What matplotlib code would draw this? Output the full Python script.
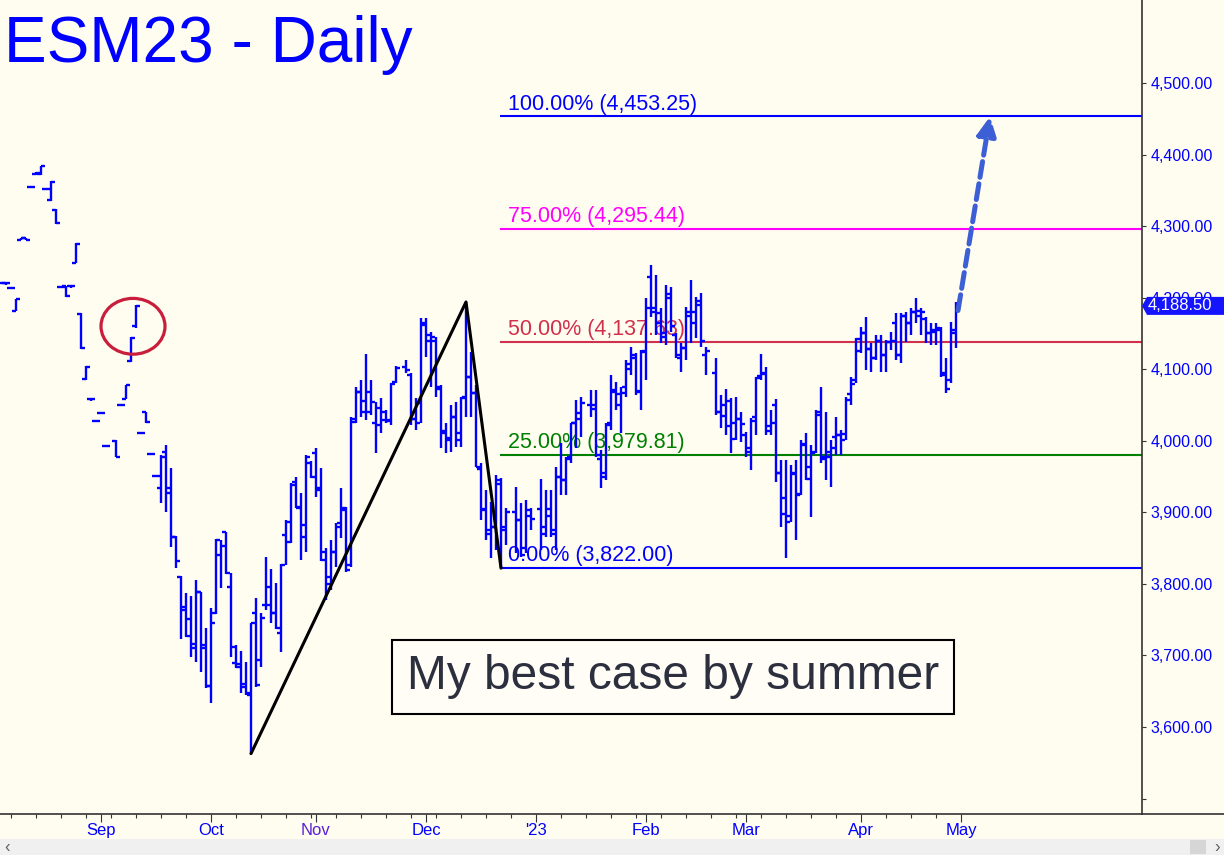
import numpy as np
import pandas as pd
import matplotlib
matplotlib.use('Agg')
import matplotlib.pyplot as plt
from matplotlib.patches import Ellipse, Rectangle, Polygon
from matplotlib.lines import Line2D
from matplotlib.transforms import IdentityTransform

plt.rcParams['font.family'] = ['Liberation Sans', 'DejaVu Sans']

# weekday calendar of the chart, Aug 1 2022 .. May 1 2023
dates = pd.bdate_range('2022-08-01', '2023-05-01')

# daily bars, one value per weekday (None = no bar)
opens = [
    None, None, None, 4221, 4220, 4214, 4181, 4281, 4283, 4354, 4373, 4373,          # Aug
    4352, 4336, 4323, 4215, 4216, 4216, 4249, 4177, 4086, 4058, 4028,
    4039, 3993, None, 4000, 4050, 4058, 4112, 4160, 4011, 4040, 3982, 3951,           # Sep
    3934, 3984, 3927, 3866, 3810, 3764, 3751, 3710, 3789, 3715,
    3657, 3759, 3840, 3872, 3796, 3690, 3688, 3660, 3645, 3759, 3694,                 # Oct
    3770, 3770, 3759, 3731, 3868, 3858, 3942, 3907, 3866, 3969,
    3983, 3934, 3845, 3810, 3845, 3885, 3906, 3826, 4026, 4068, 4055,                 # Nov
    4068, 4025, 4046, 4040, 4029, 4082, None, 4103, 4092, 4030, 4053,
    4165, 4140, 4140, 4072, 4013, 4004, 4033, 4011, 4061, 4089, 4067,                 # Dec
    3960, 3905, 3870, 3880, 3940, 3875, None, 3900, 3889, 3850, 3895,
    None, 3905, 3880, 3905, 3875, 3950, 3945, 3977, 4025, 4030, None,                 # Jan
    4050, 4050, 3975, 3955, 4025, 4068, 4050, 4075, 4100, 4115, 4068,
    4125, 4229, 4185, 4165, 4145, 4200, 4148, 4115, 4130, 4175,                       # Feb
    4165, 4190, 4120, None, 4095, 4040, 4050, 4020, 4025, 4030,
    4008, 3985, 4033, 4090, 4095, 4020, 4050, 3955, 3920, 3895, 3955, 3925,           # Mar
    3995, 3963, 3985, 4040, 3978, 3985, 4005, 4008, 4010, 4065, 4085,
    4125, 4150, 4128, 4115, 4140, 4120, 4138, 4165, 4120, 4175,                       # Apr
    4165, 4180, 4175, 4170, 4150, 4152, 4155, 4095, 4085, 4150,
    None,                                                                             # May
]
highs = [
    None, None, None, 4222, 4221, 4215, 4198, 4284, 4284, 4356, 4375, 4384,
    4353, 4363, 4324, 4216, 4217, 4217, 4276, 4178, 4104, 4059, 4029,
    4040, 3994, None, 4001, 4051, 4078, 4145, 4190, 4012, 4040, 3983, 3952,
    3980, 3994, 3962, 3867, 3811, 3787, 3783, 3805, 3789, 3738,
    3766, 3863, 3861, 3873, 3815, 3715, 3706, 3691, 3745, 3780, 3759,
    3838, 3821, 3801, 3828, 3889, 3941, 3949, 3927, 3980, 3972,
    3990, 3962, 3850, 3861, 3885, 3934, 3907, 4033, 4075, 4085, 4121,
    4085, 4054, 4060, 4043, 4081, 4104, None, 4113, 4095, 4060, 4172,
    4172, 4152, 4145, 4078, 4025, 4050, 4054, 4061, 4194, 4124, 4078,
    3969, 3931, 3914, 3952, 3948, 3906, None, 3935, 3913, 3917, 3906,
    None, 3947, 3931, 3931, 3963, 3997, 3977, 4025, 4057, 4061, None,
    4071, 4071, 3987, 4025, 4092, 4082, 4075, 4113, 4131, 4123, 4127,
    4200, 4246, 4232, 4186, 4218, 4215, 4151, 4137, 4187, 4225,
    4201, 4206, 4131, None, 4116, 4064, 4072, 4060, 4061, 4040,
    4012, 4032, 4089, 4121, 4103, 4043, 4058, 3973, 3973, 3966, 3973, 4001,
    4011, 3994, 4043, 4075, 4040, 4001, 4033, 4015, 4061, 4089, 4144,
    4159, 4173, 4137, 4148, 4148, 4141, 4152, 4179, 4179, 4180,
    4186, 4200, 4186, 4173, 4165, 4165, 4159, 4116, 4166, 4194,
    None,
]
lows = [
    None, None, None, 4219, 4218, 4213, 4181, 4280, 4280, 4353, 4372, 4372,
    4350, 4335, 4303, 4213, 4201, 4214, 4248, 4128, 4085, 4056, 4026,
    4037, 3991, None, 3977, 4048, 4058, 4110, 4158, 4009, 4025, 3980, 3949,
    3913, 3900, 3852, 3822, 3723, 3726, 3698, 3691, 3677, 3655,
    3634, 3758, 3794, 3814, 3698, 3682, 3648, 3645, 3562.75, 3656, 3684,
    3764, 3745, 3737, 3705, 3826, 3857, 3906, 3833, 3845, 3948,
    3921, 3832, 3777, 3791, 3823, 3864, 3817, 3824, 4025, 4033, 4029,
    4036, 3983, 4011, 4025, 4022, 4081, None, 4095, 4022, 4015, 4025,
    4117, 4075, 4061, 3990, 3983, 3985, 3991, 3991, 4033, 4033, 3963,
    3889, 3861, 3836, 3847, 3822, 3854, None, 3843, 3838, 3843, 3875,
    None, 3847, 3866, 3866, 3847, 3924, 3924, 3969, 3990, 4005, None,
    4033, 3977, 3934, 3945, 4015, 4043, 4011, 4061, 4092, 4064, 4043,
    4085, 4173, 4148, 4137, 4134, 4152, 4116, 4096, 4113, 4137,
    4144, 4131, 4092, None, 4036, 4018, 4008, 3983, 4001, 3998,
    3977, 3959, 4008, 4085, 4008, 4008, 3942, 3880, 3836, 3887, 3861, 3924,
    3945, 3893, 3983, 3969, 3945, 3935, 3980, 3980, 4001, 4050, 4081,
    4123, 4099, 4096, 4113, 4096, 4096, 4127, 4113, 4109, 4138,
    4148, 4165, 4148, 4137, 4134, 4134, 4089, 4067, 4081, 4130,
    None,
]
closes = [
    None, None, None, 4220, 4220, 4214, 4198, 4283, 4281, 4355, 4374, 4384,
    4352, 4362, 4304, 4215, 4202, 4216, 4275, 4129, 4103, 4058, 4028,
    4039, 3993, None, 3978, 4050, 4078, 4144, 4189, 4011, 4026, 3982, 3951,
    3977, 3934, 3866, 3832, 3768, 3727, 3716, 3789, 3710, 3657,
    3745, 3861, 3853, 3815, 3712, 3684, 3656, 3648, 3745, 3659, 3752,
    3796, 3759, 3739, 3826, 3887, 3938, 3906, 3882, 3977, 3950,
    3931, 3833, 3800, 3845, 3880, 3903, 3819, 4030, 4068, 4040, 4040,
    4054, 4022, 4029, 4028, 4080, 4102, None, 4099, 4030, 4025, 4162,
    4148, 4145, 4075, 4011, 4001, 4033, 4001, 4060, 4089, 4067, 3963,
    3903, 3875, 3880, 3945, 3880, 3900, None, 3889, 3840, 3903, 3890,
    None, 3870, 3895, 3870, 3949, 3945, 3975, 4025, 4039, 4053, None,
    4045, 3980, 3949, 4022, 4071, 4065, 4067, 4107, 4120, 4070, 4124,
    4185, 4180, 4179, 4150, 4205, 4160, 4120, 4130, 4180, 4180,
    4195, 4140, 4125, None, 4040, 4035, 4055, 4003, 4030, 4024,
    3990, 4028, 4088, 4094, 4013, 4025, 3955, 3898, 3887, 3954, 3924, 3994,
    3947, 3983, 4036, 3975, 3977, 3990, 4008, 4001, 4057, 4080, 4142,
    4150, 4128, 4115, 4140, 4120, 4138, 4140, 4120, 4175, 4165,
    4180, 4182, 4180, 4150, 4155, 4158, 4092, 4072, 4155, 4188.5,
    None,
]

# projection levels
fib_pcts = [100.0, 75.0, 50.0, 25.0, 0.0]
fib_levels = [4453.25, 4295.44, 4137.63, 3979.81, 3822.00]
fib_colors = ['#0000FF', '#FF00FF', '#D0304C', '#008000', '#0000FF']

# swing points of the pattern (bar index, price)
swing_x = [53, 96, 103]
swing_y = [3562.75, 4194, 3822]

BG = '#FFFCF0'
BLUE = '#0000FF'
XLIM = (2.8, 231.2)
YLIM = (3478.4, 4616)

fig = plt.figure(figsize=(12.24, 8.55), dpi=100, facecolor=BG)
ax = fig.add_axes([0, 41 / 855, 1142 / 1224, 814 / 855])
ax.set_facecolor(BG)

x = np.arange(len(dates))
o = np.array(opens, dtype=float)
h = np.array(highs, dtype=float)
l = np.array(lows, dtype=float)
c = np.array(closes, dtype=float)

# fib lines and labels (under the bars)
fib_start = swing_x[2] - 0.2
for p, lvl, col in zip(fib_pcts, fib_levels, fib_colors):
    ax.hlines(lvl, fib_start, XLIM[1], color=col, lw=1.5, zorder=1)
    ax.annotate('%.2f%% (%s)' % (p, format(lvl, ',.2f')), xy=(fib_start, lvl),
                xytext=(5.8, 5), textcoords='offset points', va='baseline',
                fontsize=15.5, color=col, zorder=1)

# OHLC bars
ax.vlines(x, l, h, color=BLUE, lw=1.7, zorder=3)
ax.hlines(o, x - 0.75, x, color=BLUE, lw=1.7, zorder=3)
ax.hlines(c, x, x + 0.75, color=BLUE, lw=1.7, zorder=3)

# swing lines
ax.plot(swing_x, swing_y, color='black', lw=2.2, zorder=4, solid_capstyle='round')

# circled bar
ax.add_patch(Ellipse((29.4, 4160), 12.8, 78, fill=False, ec='#C81E3C', lw=2.3, zorder=5))

# dashed projection arrow
ax.annotate('', xy=(200.8, fib_levels[0]), xytext=(194.4, 4182),
            arrowprops=dict(arrowstyle='-|>,head_length=0.8,head_width=0.4',
                            mutation_scale=14, color='#3D5FD6', lw=3.6,
                            linestyle=(0, (3.2, 1.3)), shrinkA=0, shrinkB=0),
            zorder=5)

ax.text(137.4, 3670, 'My best case by summer', ha='center', va='center',
        fontsize=34.5, color='#2B2F3E', zorder=6,
        bbox=dict(boxstyle='square,pad=0.31', fc='#FFFDF5', ec='black', lw=1.5))

# axes styling
for s in ['left', 'top']:
    ax.spines[s].set_visible(False)
ax.spines['right'].set_color('#333333')
ax.spines['bottom'].set_color('#333333')
ax.spines['right'].set_linewidth(1.2)
ax.spines['bottom'].set_linewidth(1.2)

ax.yaxis.tick_right()
yt = list(range(3500, 4501, 100))
ax.set_yticks(yt)
ax.set_yticklabels([''] + [format(v, ',.2f') for v in yt[1:]])
ax.tick_params(axis='y', direction='out', length=3, pad=3, labelsize=11.5,
               labelcolor=BLUE, color='#333333')

month_idx = [i for i in range(1, len(dates)) if dates[i].month != dates[i - 1].month]
month_lab = []
for i in month_idx:
    d = dates[i]
    month_lab.append("'" + d.strftime('%y') if d.month == 1 else d.strftime('%b'))
monday_idx = [i for i, d in enumerate(dates)
              if d.weekday() == 0 and i not in month_idx and i >= XLIM[0]]
ax.set_xticks(month_idx)
ax.set_xticklabels(month_lab)
ax.set_xticks(monday_idx, minor=True)
ax.tick_params(axis='x', which='major', direction='out', length=5.8, width=0.8,
               pad=0.5, labelsize=12, labelcolor=BLUE, color='#333333')
ax.tick_params(axis='x', which='minor', direction='out', length=2.9, width=0.8,
               color='#333333')
for t in ax.get_xticklabels():
    if t.get_text() == 'Nov':
        t.set_color('#5A1FD6')

# limits last, so the tick setters cannot widen them
ax.set_xlim(*XLIM)
ax.set_ylim(*YLIM)

# bottom line continues under the price scale
yb = 41 / 855
fig.add_artist(Line2D([1142 / 1224, 1], [yb, yb], transform=fig.transFigure,
                      color='#333333', lw=1.2))

# last price tag
xr, yc = ax.transData.transform((XLIM[1], closes[-2]))
tag = Polygon([(xr, yc), (xr + 5, yc + 9), (1224, yc + 9), (1224, yc - 9), (xr + 5, yc - 9)],
              closed=True, transform=IdentityTransform(), fc='#1414FF', ec='none', zorder=7)
fig.add_artist(tag)
fig.text((xr + 6) / 1224, yc / 855, format(closes[-2], ',.2f'), color='white',
         fontsize=12, va='center', ha='left', zorder=8)

# scroll bar strip
fig.add_artist(Rectangle((0, 0), 1, 16 / 855, transform=fig.transFigure,
                         fc='#F0F0F0', ec='none'))
fig.add_artist(Rectangle((1190 / 1224, 1 / 855), 16 / 1224, 14 / 855,
                         transform=fig.transFigure, fc='#D6D6D6', ec='none'))
fig.text(4 / 1224, 8 / 855, '\u2039', color='#606060', fontsize=12, va='center')
fig.text(1214 / 1224, 8 / 855, '\u203a', color='#606060', fontsize=12, va='center')

fig.text(4 / 1224, 1 - 62 / 855, 'ESM23 - Daily', fontsize=46, color=BLUE,
         va='baseline', ha='left')

fig.savefig('out.png', dpi=100, facecolor=BG)
